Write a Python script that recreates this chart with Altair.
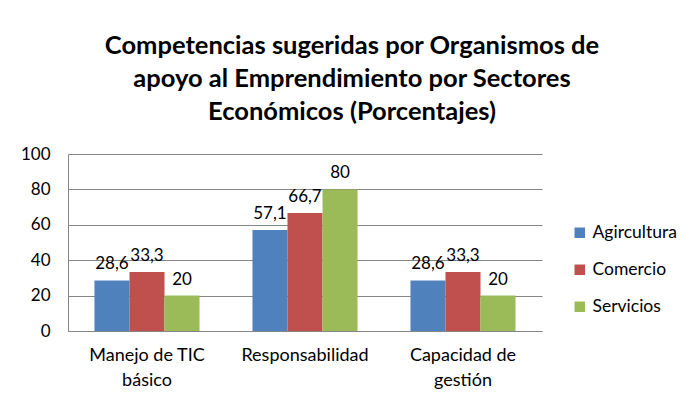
import altair as alt
import pandas as pd

categories = ["Manejo de TIC básico", "Responsabilidad", "Capacidad de gestión"]
category_lines = [["Manejo de TIC", "básico"], ["Responsabilidad"], ["Capacidad de", "gestión"]]
series = ["Agircultura", "Comercio", "Servicios"]
agricultura = [28.6, 57.1, 28.6]
comercio = [33.3, 66.7, 33.3]
servicios = [20, 80, 20]
colors = ["#4F81BD", "#C0504D", "#9BBB59"]

rows = []
for i, c in enumerate(categories):
    for s, vals in zip(series, [agricultura, comercio, servicios]):
        v = vals[i]
        lbl = (f"{v:g}").replace(".", ",")
        rows.append({"cat": c, "serie": s, "valor": v, "etiqueta": lbl})
df = pd.DataFrame(rows)

expr = " : ".join(
    [f"datum.value == '{c}' ? {lines!r}" for c, lines in zip(categories, category_lines)]
) + " : datum.label"

FONT = "Lato"

base = alt.Chart(df).encode(
    x=alt.X("cat:N", sort=categories, title=None,
            scale=alt.Scale(paddingInner=0.335, paddingOuter=0.1675),
            axis=alt.Axis(labelAngle=0, labelExpr=expr, labelFontSize=18,
                          labelPadding=15, ticks=False, labelColor="#000000",
                          domainColor="#868686", labelFont=FONT, labelLineHeight=25)),
    xOffset=alt.XOffset("serie:N", sort=series, scale=alt.Scale(paddingInner=0, paddingOuter=0)),
    y=alt.Y("valor:Q", title=None,
            scale=alt.Scale(domain=[0, 100]),
            axis=alt.Axis(values=[0, 20, 40, 60, 80, 100], labelFontSize=17, ticks=False,
                          labelPadding=18, labelColor="#000000", gridColor="#868686",
                          domainColor="#868686", labelFont=FONT)),
)

bars = base.mark_bar().encode(
    color=alt.Color("serie:N", sort=series,
                    scale=alt.Scale(domain=series, range=colors),
                    legend=alt.Legend(title=None, orient="none", legendX=503, legendY=70,
                                      symbolType="square", symbolSize=110, labelFontSize=17.5,
                                      rowPadding=18, labelFont=FONT, labelColor="#000000",
                                      symbolStrokeWidth=0))
)

labels = base.mark_text(fontSize=17, dy=-16, font=FONT, color="#000000").encode(
    text="etiqueta:N"
)

chart = (bars + labels).properties(
    width=474, height=177,
    title=alt.TitleParams(
        ["Competencias sugeridas por Organismos de", "apoyo al Emprendimiento por Sectores",
         "Económicos (Porcentajes)"],
        fontSize=25.5, font=FONT, fontWeight="bold", color="#000000",
        anchor="middle", dx=47, offset=20, lineHeight=33
    ),
    padding={"left": 60, "top": 146, "right": 137, "bottom": 62},
    autosize=alt.AutoSizeParams(type="none"),
).configure_view(stroke=None)

chart.save("out.html", embed_options={"renderer": "svg", "actions": False})
